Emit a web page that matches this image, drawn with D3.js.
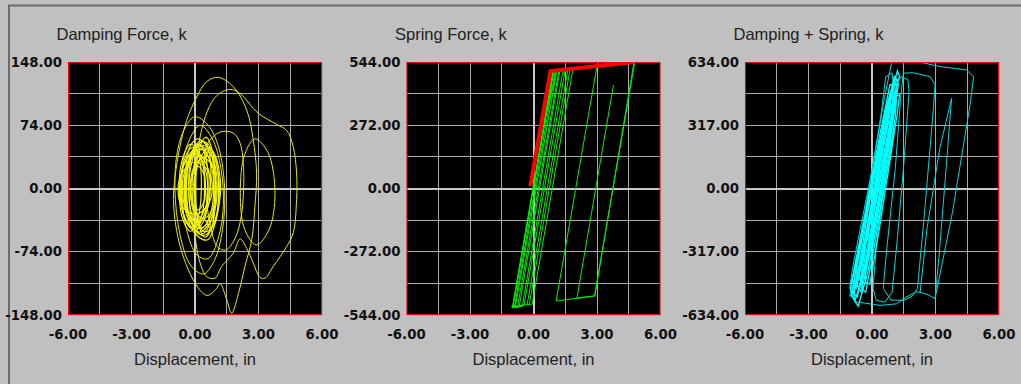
<!DOCTYPE html>
<html><head><meta charset="utf-8">
<script src="https://cdn.jsdelivr.net/npm/d3@7"></script>
<style>body{margin:0;background:#c0c0c0;overflow:hidden}svg{display:block}</style>
</head><body><svg id="c" width="1021" height="384"></svg>
<script>
// ---------- data ----------
const panelTitles = ["Damping Force, k", "Spring Force, k", "Damping + Spring, k"];
const xAxisTitle = "Displacement, in";
const yLimits = [148, 544, 634];
const xLimits = [-6, 6];
const xTickLabels = [-6, -3, 0, 3, 6];
const xGridValues = [-6, -4.5, -3, -1.5, 0, 1.5, 3, 4.5, 6];
const yGridFractions = [-1, -0.75, -0.5, -0.25, 0, 0.25, 0.5, 0.75, 1];
const yTickFractions = [1, 0.5, 0, -0.5, -1];

// Damping force loops (displacement in, force k)
const dampingCoreLoops = [
  [[1.05,2],[0.82,36],[0.22,50],[-0.42,34],[-0.68,-2],[-0.45,-36],[0.2,-51],[0.8,-35]],
  [[0.98,4],[0.78,40],[0.3,56],[-0.18,40],[-0.42,2],[-0.22,-38],[0.28,-54],[0.76,-38]],
  [[0.72,0],[0.55,28],[0.1,41],[-0.34,27],[-0.52,-1],[-0.33,-29],[0.12,-40],[0.54,-27]],
  [[0.88,-2],[0.72,31],[0.36,47],[0.02,33],[-0.14,1],[0.0,-31],[0.35,-46],[0.7,-32]],
  [[0.82,1],[0.58,22],[0.02,31],[-0.56,20],[-0.8,-1],[-0.58,-22],[0.0,-30],[0.56,-21]],
  [[0.96,3],[0.84,42],[0.52,60],[0.18,44],[0.04,0],[0.17,-42],[0.48,-57],[0.82,-43]],
  [[0.5,1],[0.4,18],[0.15,26],[-0.1,17],[-0.2,-1],[-0.1,-18],[0.14,-25],[0.4,-17]],
  [[1.0,-4],[0.78,30],[0.26,46],[-0.3,33],[-0.5,-3],[-0.3,-36],[0.24,-47],[0.75,-33]],
  [[0.45,2],[0.3,35],[-0.1,48],[-0.5,34],[-0.65,0],[-0.5,-35],[-0.1,-47],[0.3,-33]],
  [[0.98,-1],[0.85,25],[0.4,36],[-0.05,25],[-0.22,0],[-0.06,-26],[0.4,-35],[0.84,-24]],
  [[0.62,5],[0.5,38],[0.2,52],[-0.15,38],[-0.3,4],[-0.16,-30],[0.22,-44],[0.52,-30]],
  [[1.12,0],[0.9,40],[0.4,55],[-0.15,40],[-0.4,0],[-0.15,-40],[0.4,-55],[0.9,-40]],
  [[0.3,0],[0.15,40],[-0.2,52],[-0.55,38],[-0.75,0],[-0.55,-38],[-0.2,-50],[0.12,-36]],
  [[0.9,10],[0.7,45],[0.35,30],[0.1,52],[-0.35,30],[-0.6,5],[-0.4,-30],[0.0,-52],[0.4,-35],[0.75,-48]],
  [[1.15,-5],[1.0,30],[0.7,48],[0.3,38],[0.0,10],[0.05,-25],[0.4,-50],[0.85,-45]],
  [[0.6,-5],[0.45,25],[0.0,42],[-0.45,32],[-0.7,10],[-0.6,-25],[-0.2,-45],[0.3,-38]],
  [[0.75,15],[0.55,50],[0.1,58],[-0.3,45],[-0.45,10],[-0.35,-28],[0.05,-38],[0.5,-22]],
  [[1.2,8],[1.05,-30],[0.6,-60],[0.1,-55],[-0.25,-20],[-0.2,25],[0.2,50],[0.8,45]]
];
const dampingOuterLoops = [
  [[0,84],[0.62,74],[1.12,48],[1.4,0],[1.3,-48],[0.92,-84],[0.4,-100],[-0.2,-90],[-0.7,-55],[-0.95,0],[-0.82,45],[-0.45,72]],
  [[0.24,74],[0.82,58],[1.22,24],[1.34,-20],[1.1,-58],[0.62,-82],[0.1,-78],[-0.4,-48],[-0.62,0],[-0.46,44]],
  [[1.1,130],[1.81,119],[2.44,92],[2.75,57],[2.91,18],[2.83,-21],[2.68,-60],[2.36,-91],[2.05,-123],[1.73,-146],[1.5,-130],[1.18,-111],[1.02,-117],[0.63,-125],[0.39,-123],[-0.08,-107],[-0.55,-80],[-0.87,-49],[-1.02,-13],[-0.94,14],[-0.71,49],[-0.39,80],[0.08,107],[0.55,125]],
  [[1.65,116],[2.13,111],[2.99,88],[3.86,75],[4.33,68],[4.64,49],[4.8,18],[4.8,-13],[4.64,-52],[4.33,-68],[3.7,-91],[3.3,-105],[3.07,-104],[2.75,-87],[2.44,-70],[2.13,-59],[1.8,-76],[1.26,-91],[0.94,-105],[0.55,-103],[0.24,-87],[0.0,-55],[-0.1,-10],[0.1,40],[0.5,85],[1.0,108]],
  [[0.55,50],[1.18,66],[1.8,65],[2.13,53],[2.3,20],[2.2,-30],[1.9,-58],[1.45,-72],[1.05,-68],[0.7,-40],[0.5,0]],
  [[2.84,58],[3.45,42],[3.78,-5],[3.5,-48],[2.9,-66],[2.35,-48],[2.14,-5],[2.35,40]]
];

// Spring force history (displacement in, force k)
const springPath = [
  [0,0],[0.95,506],[-0.97,-508],[0.95,506],[1.25,509],[-0.68,-510],[-1.0,-513],
  [0.93,510],[0.5,285],[1.1,508],[1.4,511],[-0.53,-506],[-0.9,-510],[1.03,508],
  [1.87,517],[-0.06,-497],[-0.3,-500],[1.63,514],[1.73,515],[-0.2,-498],[-1.04,-508],
  [-0.85,-505],[1.1,505],[1.2,507],[-0.75,-508],[-0.45,-503],[1.5,512],
  [3.0,527],[1.07,-484],[2.05,-472],[2.88,-462],[4.79,546],[4.75,544],[2.9,-462],[2.05,-472],[3.78,445]
];
const springBackbone = [[-0.15,10],[0.8,505],[4.75,544]];

// Damping + spring loops (displacement in, force k)
const totalBandLoops = [
  [[-0.92,-520],[-0.7,-545],[-0.35,-400],[0.35,-40],[0.95,330],[1.18,500],[1.05,545],[0.75,430],[0.05,60],[-0.6,-300]],
  [[-0.8,-470],[-0.62,-500],[-0.2,-330],[0.5,40],[1.05,380],[1.15,470],[0.95,500],[0.55,300],[-0.1,-60],[-0.6,-380]],
  [[-0.6,-430],[-0.45,-470],[0.0,-240],[0.55,80],[0.95,330],[1.0,400],[0.85,420],[0.45,200],[-0.1,-120],[-0.5,-350]],
  [[-0.98,-540],[-0.8,-560],[-0.4,-420],[0.3,-60],[0.9,300],[1.25,520],[1.1,560],[0.7,420],[0.0,40],[-0.7,-360]],
  [[-0.4,-350],[-0.25,-380],[0.2,-150],[0.7,150],[0.95,300],[0.8,340],[0.4,150],[-0.1,-150]],
  [[-0.75,-420],[-0.55,-460],[0.0,-180],[0.6,150],[1.0,420],[0.95,470],[0.7,380],[0.1,60],[-0.5,-270]],
  [[-0.2,-260],[0.0,-280],[0.5,0],[0.9,230],[0.8,270],[0.35,60],[-0.1,-170]],
  [[-1.02,-500],[-0.9,-530],[-0.5,-380],[0.2,-10],[0.8,370],[1.3,560],[1.2,590],[0.9,470],[0.1,80],[-0.8,-380]],
  [[-0.5,-500],[-0.3,-520],[0.2,-240],[0.75,110],[1.1,360],[1.15,440],[0.95,420],[0.45,180],[-0.15,-180],[-0.5,-420]],
  [[-0.85,-560],[-0.65,-590],[-0.2,-420],[0.4,-90],[0.9,200],[1.05,300],[0.9,320],[0.4,60],[-0.3,-280],[-0.8,-500]],
  [[-0.7,-480],[-0.5,-520],[-0.05,-300],[0.5,60],[1.0,420],[1.2,540],[1.05,560],[0.6,330],[0.0,-60],[-0.55,-400]],
  [[-0.95,-460],[-0.75,-500],[-0.25,-250],[0.35,100],[0.85,420],[1.05,520],[0.85,520],[0.35,260],[-0.3,-120],[-0.85,-420]],
  [[-0.3,-470],[-0.1,-480],[0.35,-200],[0.85,140],[1.2,380],[1.3,470],[1.1,460],[0.6,200],[0.0,-180],[-0.3,-400]]
];
const totalOuterLoops = [
  [[0.93,633],[1.6,636],[2.27,633],[3.21,611],[4.47,594],[4.8,560],[4.63,418],[3.8,-120],[2.98,-552],[2.6,-530],[2.11,-517],[1.6,-545],[1.17,-578],[0.38,-586],[-0.3,-575],[-0.8,-567],[-1.05,-500],[-0.95,-420],[-0.8,-334],[0.05,120],[0.6,460]],
  [[1.48,578],[1.95,580],[2.75,560],[2.98,519],[2.9,400],[2.5,-100],[2.15,-500],[1.9,-540],[1.5,-560],[0.9,-560],[0.53,-500],[0.7,-300],[1.1,100],[1.35,450]],
  [[1.1,540],[1.4,560],[1.7,545],[1.75,480],[1.5,120],[1.2,-250],[0.95,-520],[0.6,-570],[0.2,-560],[0.05,-500],[0.2,-300],[0.7,150],[1.0,450]],
  [[0.65,560],[0.95,580],[1.0,520],[0.5,250],[-0.2,-180],[-0.85,-520],[-1.05,-540],[-0.95,-470],[-0.3,-100],[0.4,350]]
];
const totalOpenLines = [
  [[2.27,-524],[2.6,-200],[3.2,200],[3.76,452],[3.5,100],[3.2,-300],[2.98,-552]]
];

// ---------- layout ----------
const svg = d3.select("#c");
const plotLefts = [68, 406.5, 745];
const plotW = 254, plotTop = 62, plotBottom = 315;

svg.append("rect").attr("width",1021).attr("height",384).attr("fill","#c0c0c0");
svg.append("path").attr("d","M9,384V5.5H1021").attr("fill","none").attr("stroke","#6b6b6b").attr("stroke-width",2);

function drawPanel(i, drawData) {
  const left = plotLefts[i], right = left + plotW;
  const x = d3.scaleLinear().domain(xLimits).range([left, right]);
  const y = d3.scaleLinear().domain([-yLimits[i], yLimits[i]]).range([plotBottom, plotTop]);
  const g = svg.append("g");
  g.append("rect").attr("x",left).attr("y",plotTop).attr("width",plotW).attr("height",plotBottom-plotTop).attr("fill","#000");
  g.selectAll(".gx").data(xGridValues).enter().append("line")
    .attr("x1",d=>x(d)).attr("x2",d=>x(d)).attr("y1",plotTop).attr("y2",plotBottom)
    .attr("stroke",d=>d===0?"#c8c8c8":"#a9a9a9").attr("stroke-width",d=>d===0?2:1)
    .attr("shape-rendering","crispEdges");
  g.selectAll(".gy").data(yGridFractions).enter().append("line")
    .attr("y1",d=>y(d*yLimits[i])).attr("y2",d=>y(d*yLimits[i])).attr("x1",left).attr("x2",right)
    .attr("stroke",d=>d===0?"#c8c8c8":"#a9a9a9").attr("stroke-width",d=>d===0?2:1)
    .attr("shape-rendering","crispEdges");
  const clipId = "clip"+i;
  svg.append("clipPath").attr("id",clipId).append("rect").attr("x",left).attr("y",plotTop).attr("width",plotW).attr("height",plotBottom-plotTop);
  const dg = g.append("g").attr("clip-path",`url(#${clipId})`);
  drawData(dg, x, y);
  g.append("rect").attr("x",left+0.5).attr("y",plotTop+0.5).attr("width",plotW-1).attr("height",plotBottom-plotTop-1)
    .attr("fill","none").attr("stroke","#ff0000").attr("stroke-width",1);
  g.selectAll(".yl").data(yTickFractions).enter().append("text")
    .attr("x",left-6).attr("y",d=>y(d*yLimits[i])+4.7).attr("text-anchor","end")
    .attr("font-family","DejaVu Sans").attr("font-weight","bold").attr("font-size","13.3px").attr("fill","#111")
    .text(d=>(d*yLimits[i]).toFixed(2));
  g.selectAll(".xl").data(xTickLabels).enter().append("text")
    .attr("x",d=>x(d)).attr("y",339).attr("text-anchor","middle")
    .attr("font-family","DejaVu Sans").attr("font-weight","bold").attr("font-size","13.3px").attr("fill","#111")
    .text(d=>d.toFixed(2));
  g.append("text").attr("x",left-11.5).attr("y",39.5)
    .attr("font-family","Liberation Sans, Arial").attr("font-size","16.5px").attr("fill","#222").text(panelTitles[i]);
  g.append("text").attr("x",(left+right)/2).attr("y",365).attr("text-anchor","middle")
    .attr("font-family","Liberation Sans, Arial").attr("font-size","16.5px").attr("fill","#222").text(xAxisTitle);
}

drawPanel(0, (g, x, y) => {
  const loop = d3.line().x(d=>x(d[0])).y(d=>y(d[1])).curve(d3.curveCatmullRomClosed);
  g.selectAll(".o").data(dampingOuterLoops).enter().append("path").attr("d",loop)
    .attr("fill","none").attr("stroke","#e8e800").attr("stroke-width",1);
  g.selectAll(".c").data(dampingCoreLoops).enter().append("path").attr("d",loop)
    .attr("fill","none").attr("stroke","#f4f400").attr("stroke-width",1.2);
});

drawPanel(1, (g, x, y) => {
  const line = d3.line().x(d=>x(d[0])).y(d=>y(d[1]));
  g.append("path").attr("d",line(springPath)).attr("fill","none").attr("stroke","#00f000").attr("stroke-width",1);
  g.append("path").attr("d",line(springBackbone)).attr("fill","none").attr("stroke","#ff0000").attr("stroke-width",4).attr("stroke-linejoin","miter");
});

drawPanel(2, (g, x, y) => {
  const loop = d3.line().x(d=>x(d[0])).y(d=>y(d[1])).curve(d3.curveLinearClosed);
  const line = d3.line().x(d=>x(d[0])).y(d=>y(d[1]));
  g.selectAll(".o").data(totalOuterLoops).enter().append("path").attr("d",loop)
    .attr("fill","none").attr("stroke","#00d8d8").attr("stroke-width",1);
  g.selectAll(".l").data(totalOpenLines).enter().append("path").attr("d",line)
    .attr("fill","none").attr("stroke","#00d8d8").attr("stroke-width",1);
  g.selectAll(".b").data(totalBandLoops).enter().append("path").attr("d",loop)
    .attr("fill","none").attr("stroke","#00ffff").attr("stroke-width",1.3);
});
</script></body></html>
